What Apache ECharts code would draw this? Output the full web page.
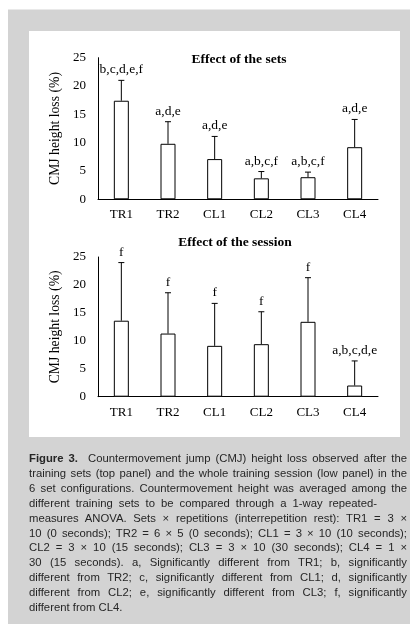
<!DOCTYPE html>
<html>
<head>
<meta charset="utf-8">
<script src="https://cdn.jsdelivr.net/npm/echarts@6/dist/echarts.min.js"></script>
<style>
  html, body { margin: 0; padding: 0; background: #fff; }
  #wrap { position: relative; width: 410px; height: 630px; overflow: hidden; }
  #chart { position: absolute; left: 0; top: 0; width: 410px; height: 630px; }
  #caption {
    position: absolute; left: 29px; top: 451px; width: 378px;
    font-family: "Liberation Sans", Arial, sans-serif; font-size: 11.3px;
    line-height: 14.9px; color: #262626;
  }
  #caption .ln { text-align: justify; text-align-last: justify; white-space: nowrap; }
  #caption .ln.left { text-align-last: left; }
  #caption .ln.hy { text-align-last: left; word-spacing: 2.9px; }
  #caption b { font-weight: bold; }
</style>
</head>
<body>
<div id="wrap">
  <div id="chart"></div>
  <div id="caption">
    <div class="ln"><b>Figure 3.</b>&nbsp; Countermovement jump (CMJ) height loss observed after the</div>
    <div class="ln">training sets (top panel) and the whole training session (low panel) in the</div>
    <div class="ln">6 set configurations. Countermovement height was averaged among the</div>
    <div class="ln hy">different training sets to be compared through a 1-way repeated-</div>
    <div class="ln">measures ANOVA. Sets × repetitions (interrepetition rest): TR1 = 3 ×</div>
    <div class="ln">10 (0 seconds); TR2 = 6 × 5 (0 seconds); CL1 = 3 × 10 (10 seconds);</div>
    <div class="ln">CL2 = 3 × 10 (15 seconds); CL3 = 3 × 10 (30 seconds); CL4 = 1 ×</div>
    <div class="ln">30 (15 seconds). a, Significantly different from TR1; b, significantly</div>
    <div class="ln">different from TR2; c, significantly different from CL1; d, significantly</div>
    <div class="ln">different from CL2; e, significantly different from CL3; f, significantly</div>
    <div class="ln left">different from CL4.</div>
  </div>
</div>
<script>
// Set configurations
const categories = ['TR1', 'TR2', 'CL1', 'CL2', 'CL3', 'CL4'];

// Effect of the sets: CMJ height loss (%), mean and SD
const setsMean = [17.4, 9.8, 7.1, 3.7, 3.9, 9.2];
const setsSD = [3.6, 3.9, 4.0, 1.2, 0.9, 4.9];
const setsLetters = ['b,c,d,e,f', 'a,d,e', 'a,d,e', 'a,b,c,f', 'a,b,c,f', 'a,d,e'];

// Effect of the session: CMJ height loss (%), mean and SD
const sessionMean = [13.6, 11.3, 9.1, 9.4, 13.4, 2.0];
const sessionSD = [10.4, 7.3, 7.6, 5.8, 7.9, 4.4];
const sessionLetters = ['f', 'f', 'f', 'f', 'f', 'a,b,c,d,e'];

// Y axis ticks
const yMin = 0, yMax = 25, yStep = 5;

const SERIF = '"Liberation Serif", "Times New Roman", serif';

const chart = echarts.init(document.getElementById('chart'), null, { renderer: 'canvas' });

function errorData(mean, sd, letters) {
  return mean.map((m, i) => [i, m, m + sd[i], letters[i]]);
}

// Upper error whisker with cap, and significance letters above it
function renderError(params, api) {
  const x = api.value(0);
  const low = api.coord([x, api.value(1)]);
  const high = api.coord([x, api.value(2)]);
  const cap = 3;
  const style = { stroke: '#000', lineWidth: 1 };
  return {
    type: 'group',
    children: [
      { type: 'line', shape: { x1: low[0], y1: low[1], x2: high[0], y2: high[1] }, style },
      { type: 'line', shape: { x1: high[0] - cap, y1: high[1], x2: high[0] + cap, y2: high[1] }, style },
      {
        type: 'text',
        style: {
          x: high[0], y: high[1] - 10.5, text: api.value(3),
          align: 'center', verticalAlign: 'middle',
          font: '13.5px ' + SERIF, fill: '#000'
        }
      }
    ]
  };
}

function xAxis(gridIndex) {
  return {
    type: 'category', gridIndex, data: categories,
    axisLine: { lineStyle: { color: '#000', width: 1 } },
    axisTick: { show: false },
    axisLabel: { color: '#000', fontFamily: SERIF, fontSize: 13, margin: 9 }
  };
}

function yAxis(gridIndex) {
  return {
    type: 'value', gridIndex, min: yMin, max: yMax, interval: yStep,
    name: 'CMJ height loss (%)', nameLocation: 'middle', nameGap: 34,
    nameTextStyle: { color: '#000', fontFamily: SERIF, fontSize: 13.7 },
    axisLine: { show: true, lineStyle: { color: '#000', width: 1 } },
    axisTick: { show: false },
    splitLine: { show: false },
    axisLabel: { color: '#000', fontFamily: SERIF, fontSize: 13, margin: 12 }
  };
}

const barStyle = { color: '#fff', borderColor: '#000', borderWidth: 1 };

chart.setOption({
  backgroundColor: '#fff',
  animation: false,
  graphic: [
    { type: 'rect', z: -10, shape: { x: 8, y: 9.5, width: 402, height: 614.5 }, style: { fill: '#d3d3d3' } },
    { type: 'rect', z: -9, shape: { x: 29, y: 31, width: 371, height: 406 }, style: { fill: '#fff' } }
  ],
  title: [
    {
      text: 'Effect of the sets', left: 239, top: 53, textAlign: 'center', padding: 0,
      textStyle: { fontFamily: SERIF, fontSize: 13.5, fontWeight: 'bold', color: '#000' }
    },
    {
      text: 'Effect of the session', left: 235, top: 236, textAlign: 'center', padding: 0,
      textStyle: { fontFamily: SERIF, fontSize: 13.5, fontWeight: 'bold', color: '#000' }
    }
  ],
  grid: [
    { left: 98, top: 57.7, width: 280, height: 141.6 },
    { left: 98, top: 257, width: 280, height: 139.7 }
  ],
  xAxis: [xAxis(0), xAxis(1)],
  yAxis: [yAxis(0), yAxis(1)],
  series: [
    { type: 'bar', xAxisIndex: 0, yAxisIndex: 0, data: setsMean, barWidth: 15, itemStyle: barStyle },
    {
      type: 'custom', xAxisIndex: 0, yAxisIndex: 0, renderItem: renderError,
      data: errorData(setsMean, setsSD, setsLetters), z: 3
    },
    { type: 'bar', xAxisIndex: 1, yAxisIndex: 1, data: sessionMean, barWidth: 15, itemStyle: barStyle },
    {
      type: 'custom', xAxisIndex: 1, yAxisIndex: 1, renderItem: renderError,
      data: errorData(sessionMean, sessionSD, sessionLetters), z: 3
    }
  ]
});
</script>
</body>
</html>
